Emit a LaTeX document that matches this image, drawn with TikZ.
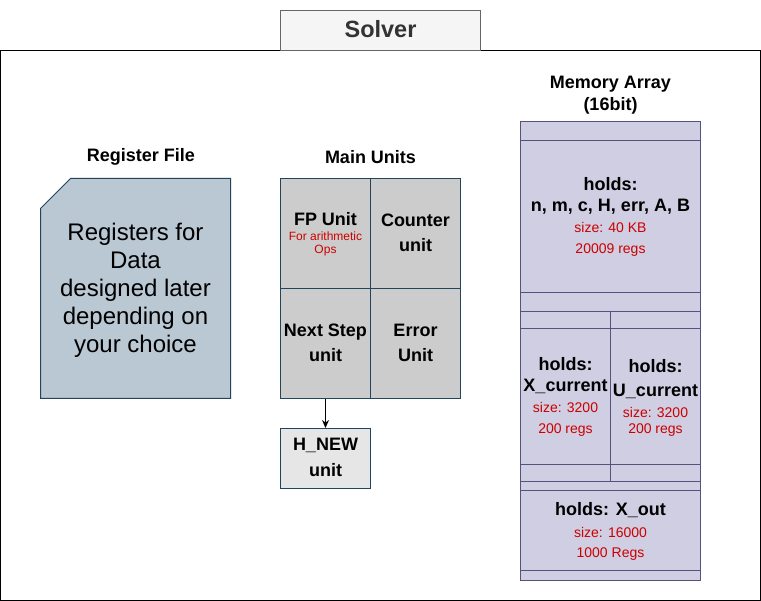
\documentclass[tikz,border=0pt]{standalone}
\usepackage{fontspec}
\setmainfont{Liberation Sans}
\usetikzlibrary{arrows.meta}
\definecolor{cardfill}{HTML}{BAC8D3}
\definecolor{cardline}{HTML}{23445D}
\definecolor{unitfill}{HTML}{CCCCCC}
\definecolor{newfill}{HTML}{E6E6E6}
\definecolor{memfill}{HTML}{D0CEE2}
\definecolor{memline}{HTML}{56517E}
\definecolor{redtxt}{HTML}{CC0000}
\definecolor{titlefill}{HTML}{F5F5F5}
\definecolor{titleline}{HTML}{666666}
\definecolor{titletxt}{HTML}{333333}
\begin{document}
\begin{tikzpicture}[x=1pt,y=-1pt,
  bold18/.style={font=\bfseries\fontsize{18}{21}\selectfont, text=black, inner sep=0pt, anchor=base},
  red14/.style={font=\fontsize{14}{16}\selectfont, text=redtxt, inner sep=0pt, anchor=base},
  red12/.style={font=\fontsize{12}{14}\selectfont, text=redtxt, inner sep=0pt, anchor=base},
  norm24/.style={font=\fontsize{24}{28}\selectfont, text=black, inner sep=0pt, anchor=base},
  unitcell/.style={draw=cardline, fill=unitfill, line width=1pt},
  memcell/.style={draw=memline, fill=memfill, line width=1pt},
]
\useasboundingbox (0,0) rectangle (761,601);
% outer frame
\draw[line width=1pt, fill=white] (0.5,50.5) rectangle (760.5,600.5);
% title
\node[draw=titleline, fill=titlefill, line width=1pt, minimum width=200pt, minimum height=40pt, inner sep=0pt] (title) at (380.5,30.5) {};
\node[font=\bfseries\fontsize{23.5}{27}\selectfont, text=titletxt, inner sep=0pt, anchor=base] (titletext) at (380.5,38) {Solver};

% Register File
\node[bold18] (rflabel) at (141,162) {Register File};
\draw[draw=cardline, fill=cardfill, line width=1pt] (70.5,178.5) -- (230.5,178.5) -- (230.5,398.5) -- (40.5,398.5) -- (40.5,208.5) -- cycle;
\node[norm24] (r1) at (135.5,241) {Registers for};
\node[norm24] (r2) at (135.5,269) {Data};
\node[norm24] (r3) at (135.5,297) {designed later};
\node[norm24] (r4) at (135.5,325) {depending on};
\node[norm24] (r5) at (135.5,353) {your choice};

% Main Units
\node[bold18] (mulabel) at (370.5,164) {Main Units};
\node[unitcell, minimum width=90pt, minimum height=110pt, inner sep=0pt] (fp) at (325.5,233.5) {};
\node[unitcell, minimum width=90pt, minimum height=110pt, inner sep=0pt] (cnt) at (415.5,233.5) {};
\node[unitcell, minimum width=90pt, minimum height=110pt, inner sep=0pt] (ns) at (325.5,343.5) {};
\node[unitcell, minimum width=90pt, minimum height=110pt, inner sep=0pt] (err) at (415.5,343.5) {};
\node[bold18] (fp1) at (325.5,226) {FP Unit};
\node[red12] (fp2) at (325.5,241) {For arithmetic};
\node[red12] (fp3) at (325.5,254) {Ops};
\node[bold18] (c1) at (415.5,227) {Counter};
\node[bold18] (c2) at (415.5,252) {unit};
\node[bold18] (n1) at (325.5,337) {Next Step};
\node[bold18] (n2) at (325.5,362) {unit};
\node[bold18] (e1) at (415.5,337) {Error};
\node[bold18] (e2) at (415.5,362) {Unit};
\node[draw=cardline, fill=newfill, line width=1pt, minimum width=90pt, minimum height=60pt, inner sep=0pt] (hnew) at (325.5,458.5) {};
\node[bold18] (h1) at (325.5,451) {H\_NEW};
\node[bold18] (h2) at (325.5,477) {unit};
\draw[line width=1pt, -{Stealth[length=8pt,width=7pt]}] (ns.south) -- (hnew.north);

% Memory Array
\node[bold18] (malabel1) at (610.5,89) {Memory Array};
\node[bold18] (malabel2) at (610.5,111) {(16bit)};
\draw[memcell] (520.5,121.5) rectangle (700.5,140.5);
\draw[memcell] (520.5,140.5) rectangle (700.5,292.5);
\draw[memcell] (520.5,292.5) rectangle (700.5,311.5);
\draw[memcell] (520.5,311.5) rectangle (610.5,328.5);
\draw[memcell] (610.5,311.5) rectangle (700.5,328.5);
\draw[memcell] (520.5,328.5) rectangle (610.5,464.5);
\draw[memcell] (610.5,328.5) rectangle (700.5,464.5);
\draw[memcell] (520.5,464.5) rectangle (610.5,481.5);
\draw[memcell] (610.5,464.5) rectangle (700.5,481.5);
\draw[memcell] (520.5,481.5) rectangle (700.5,490.5);
\draw[memcell] (520.5,490.5) rectangle (700.5,570.5);
\draw[memcell] (520.5,570.5) rectangle (700.5,580.5);

\node[bold18] (m1) at (610.5,191) {holds:};
\node[bold18] (m2) at (610.5,212) {n, m, c, H, err, A, B};
\node[red14] (m3) at (610.5,233) {size: 40 KB};
\node[red14] (m4) at (610.5,254) {20009 regs};

\node[bold18] (x1) at (565.5,371) {holds:};
\node[bold18] (x2) at (565.5,392) {X\_current};
\node[red14] (x3) at (565.5,413) {size: 3200};
\node[red14] (x4) at (565.5,434) {200 regs};

\node[bold18] (u1) at (655.5,373) {holds:};
\node[bold18] (u2) at (655.5,397) {U\_current};
\node[red14] (u3) at (655.5,418) {size: 3200};
\node[red14] (u4) at (655.5,434) {200 regs};

\node[bold18] (o1) at (610.5,516) {holds: X\_out};
\node[red14] (o2) at (610.5,537) {size: 16000};
\node[red14] (o3) at (610.5,558) {1000 Regs};
\end{tikzpicture}
\end{document}
